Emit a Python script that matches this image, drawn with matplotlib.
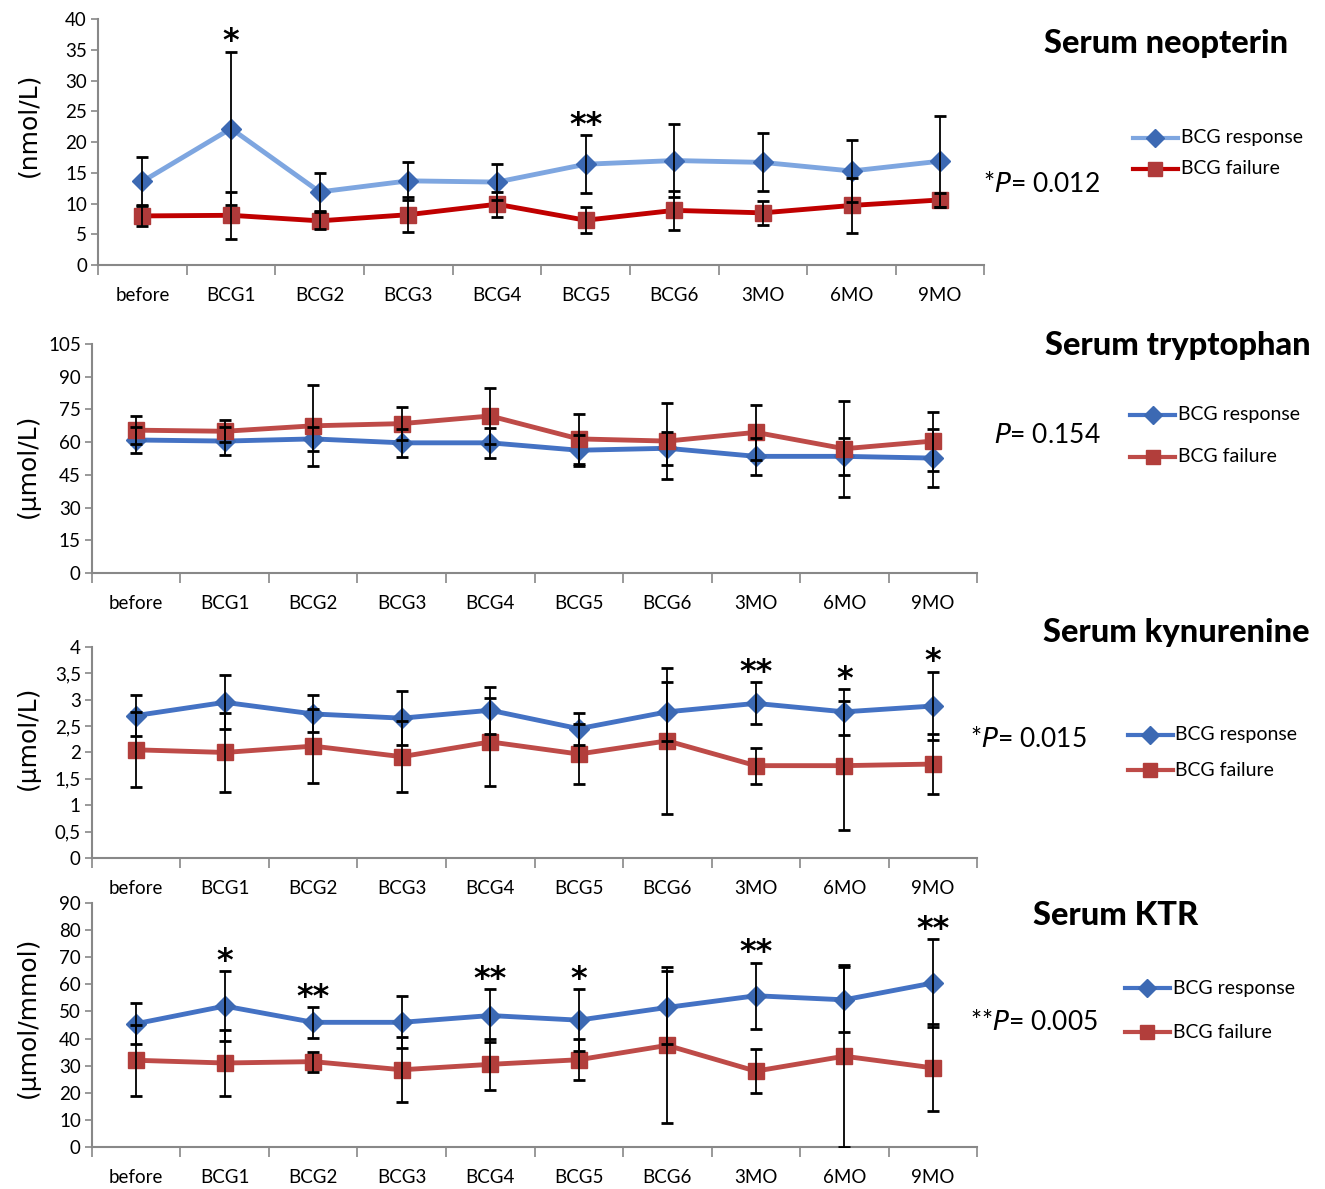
import numpy as np
import matplotlib
matplotlib.use('Agg')
import matplotlib.pyplot as plt
from matplotlib.transforms import blended_transform_factory

# categorias (tempo)
categories = ['before', 'BCG1', 'BCG2', 'BCG3', 'BCG4', 'BCG5', 'BCG6', '3MO', '6MO', '9MO']

# Serum neopterin (nmol/L)
neo_resp = [13.6, 22.2, 11.9, 13.7, 13.5, 16.4, 17.0, 16.7, 15.3, 16.9]
neo_resp_sd = [3.9, 12.5, 3.1, 3.1, 2.9, 4.7, 5.9, 4.7, 5.1, 7.4]
neo_fail = [8.0, 8.1, 7.2, 8.2, 9.9, 7.3, 8.9, 8.5, 9.7, 10.6]
neo_fail_sd = [1.6, 3.8, 1.4, 2.8, 2.0, 2.1, 3.2, 2.0, 4.4, 1.2]
neo_stars = ['', '*', '', '', '', '**', '', '', '', '']

# Serum tryptophan (umol/L)
trp_resp = [61.0, 60.5, 61.5, 59.7, 59.7, 56.3, 57.2, 53.5, 53.5, 52.7]
trp_resp_sd = [6.0, 6.5, 5.5, 6.5, 7.0, 7.0, 7.5, 8.5, 8.5, 13.3]
trp_fail = [65.5, 65.0, 67.5, 68.5, 72.0, 61.5, 60.5, 64.5, 57.0, 60.5]
trp_fail_sd = [6.5, 5.0, 18.5, 7.5, 13.0, 11.5, 17.5, 12.5, 22.0, 13.5]
trp_stars = [''] * 10

# Serum kynurenine (umol/L)
kyn_resp = [2.70, 2.95, 2.73, 2.65, 2.80, 2.45, 2.77, 2.93, 2.77, 2.88]
kyn_resp_sd = [0.38, 0.51, 0.35, 0.51, 0.45, 0.30, 0.56, 0.40, 0.43, 0.65]
kyn_fail = [2.05, 2.00, 2.12, 1.92, 2.20, 1.97, 2.22, 1.75, 1.75, 1.78]
kyn_fail_sd = [0.71, 0.75, 0.70, 0.67, 0.83, 0.56, 1.38, 0.34, 1.22, 0.57]
kyn_stars = ['', '', '', '', '', '', '', '**', '*', '*']

# Serum KTR (umol/mmol)
ktr_resp = [45.5, 52.0, 46.0, 46.0, 48.5, 46.8, 51.5, 55.8, 54.3, 60.5]
ktr_resp_sd = [7.5, 12.8, 5.6, 9.6, 9.7, 11.4, 13.5, 12.2, 12.0, 16.2]
ktr_fail = [32.0, 31.0, 31.5, 28.5, 30.5, 32.2, 37.5, 28.0, 33.5, 29.2]
ktr_fail_sd = [13.0, 12.0, 3.7, 12.0, 9.3, 7.6, 28.8, 8.0, 33.5, 16.0]
ktr_stars = ['', '*', '**', '', '**', '*', '', '**', '', '**']

panels = [
    dict(resp=neo_resp, resp_sd=neo_resp_sd, fail=neo_fail, fail_sd=neo_fail_sd, stars=neo_stars,
         ymax=40, ystep=5, ylabel='(nmol/L)', label_y=0.57, title='Serum neopterin', ptxt=('*', '= 0.012'),
         rect=[0.074, 0.777, 0.669, 0.207], rline='#7ea6e0', fline='#c00000', fmark='#b03a3a', decimal_comma=False,
         title_xy=(0.880, 0.963), leg_y=(0.884, 0.858), leg_x=0.855, p_xy=(0.742, 0.845)),
    dict(resp=trp_resp, resp_sd=trp_resp_sd, fail=trp_fail, fail_sd=trp_fail_sd, stars=trp_stars,
         ymax=105, ystep=15, ylabel='(µmol/L)', label_y=0.47, title='Serum tryptophan', ptxt=('', '= 0.154'),
         rect=[0.0694, 0.518, 0.668, 0.1927], rline='#4472c4', fline='#be4b48', fmark='#b23e3b', decimal_comma=False,
         title_xy=(0.889, 0.709), leg_y=(0.651, 0.616), leg_x=0.853, p_xy=(0.750, 0.634)),
    dict(resp=kyn_resp, resp_sd=kyn_resp_sd, fail=kyn_fail, fail_sd=kyn_fail_sd, stars=kyn_stars,
         ymax=4, ystep=0.5, ylabel='(µmol/L)', label_y=0.57, title='Serum kynurenine', ptxt=('*', '= 0.015'),
         rect=[0.0694, 0.2784, 0.668, 0.1775], rline='#4472c4', fline='#be4b48', fmark='#b23e3b', decimal_comma=True,
         title_xy=(0.888, 0.468), leg_y=(0.382, 0.352), leg_x=0.851, p_xy=(0.732, 0.378)),
    dict(resp=ktr_resp, resp_sd=ktr_resp_sd, fail=ktr_fail, fail_sd=ktr_fail_sd, stars=ktr_stars,
         ymax=90, ystep=10, ylabel='(µmol/mmol)', label_y=0.53, title='Serum KTR', ptxt=('**', '= 0.005'),
         rect=[0.0694, 0.0353, 0.668, 0.2052], rline='#4472c4', fline='#be4b48', fmark='#b23e3b', decimal_comma=False,
         title_xy=(0.842, 0.230), leg_y=(0.169, 0.132), leg_x=0.849, p_xy=(0.732, 0.140)),
]

lab_font = 'Lato'
fig = plt.figure(figsize=(13.25, 11.89), dpi=100)
fig.set_facecolor('white')
x = np.arange(len(categories))

for p in panels:
    ax = fig.add_axes(p['rect'])
    ax.plot(x, p['resp'], color=p['rline'], lw=3.5, zorder=2)
    ax.plot(x, p['resp'], ls='none', marker='D', ms=10, color='#3c69b3', zorder=3)
    ax.plot(x, p['fail'], color=p['fline'], lw=3.5, zorder=2)
    ax.plot(x, p['fail'], ls='none', marker='s', ms=11, color=p['fmark'], zorder=3)
    ax.errorbar(x, p['resp'], yerr=p['resp_sd'], fmt='none', ecolor='black', elinewidth=1.3,
                capsize=4, capthick=2, zorder=4)
    ax.errorbar(x, p['fail'], yerr=p['fail_sd'], fmt='none', ecolor='black', elinewidth=1.3,
                capsize=4, capthick=2, zorder=4)
    # asteriscos
    top = np.maximum(np.array(p['resp']) + np.array(p['resp_sd']), np.array(p['fail']) + np.array(p['fail_sd']))
    for i, s in enumerate(p['stars']):
        if s:
            ax.annotate(s, (x[i], top[i]), xytext=(0, 1), textcoords='offset points', ha='center',
                        va='baseline', fontsize=23, fontfamily='DejaVu Sans', fontweight='bold')

    ax.set_xlim(-0.5, len(categories) - 0.5)
    ax.set_ylim(0, p['ymax'])
    yt = np.arange(0, p['ymax'] + p['ystep'] / 2, p['ystep'])
    ax.set_yticks(yt)
    if p['decimal_comma']:
        ax.set_yticklabels([('%g' % v).replace('.', ',') for v in yt])
    ax.set_xticks(x)
    ax.set_xticklabels(categories)
    ax.set_xticks(np.arange(-0.5, len(categories)), minor=True)
    ax.tick_params(axis='x', which='major', length=0, pad=16, labelsize=13.5)
    ax.tick_params(axis='x', which='minor', length=7, width=1.2, color='#888888', direction='out')
    ax.tick_params(axis='y', length=5, width=1.2, color='#888888', labelsize=13.5, pad=3)
    for lab in ax.get_xticklabels() + ax.get_yticklabels():
        lab.set_fontfamily(lab_font)
    for sp in ['top', 'right']:
        ax.spines[sp].set_visible(False)
    for sp in ['left', 'bottom']:
        ax.spines[sp].set_color('#888888')
        ax.spines[sp].set_linewidth(1.5)
    ax.set_ylabel(p['ylabel'], fontsize=18, fontfamily='DejaVu Sans')
    ax.yaxis.set_label_coords(40 / 1325, p['label_y'],
                              transform=blended_transform_factory(fig.transFigure, ax.transAxes))

    # titulo e legenda manual
    fig.text(p['title_xy'][0], p['title_xy'][1], p['title'], ha='center', va='center',
             fontsize=23.5, fontweight='black', fontfamily=lab_font)
    lx = p['leg_x']
    for yy, col, mcol, mk, lab in [(p['leg_y'][0], p['rline'], '#3c69b3', 'D', 'BCG response'),
                                   (p['leg_y'][1], p['fline'], p['fmark'], 's', 'BCG failure')]:
        fig.add_artist(plt.Line2D([lx, lx + 0.034], [yy, yy], color=col, lw=3, transform=fig.transFigure))
        fig.add_artist(plt.Line2D([lx + 0.017], [yy], marker=mk, ms=9 if mk == 'D' else 10, color=mcol,
                                  transform=fig.transFigure))
        fig.text(lx + 0.036, yy, lab, ha='left', va='center', fontsize=14, fontfamily=lab_font)
    fig.text(p['p_xy'][0], p['p_xy'][1], p['ptxt'][0] + r'$\it{P}$' + p['ptxt'][1], ha='left', va='center',
             fontsize=19, fontfamily=lab_font)

fig.savefig('out.png', dpi=100, facecolor='white')
